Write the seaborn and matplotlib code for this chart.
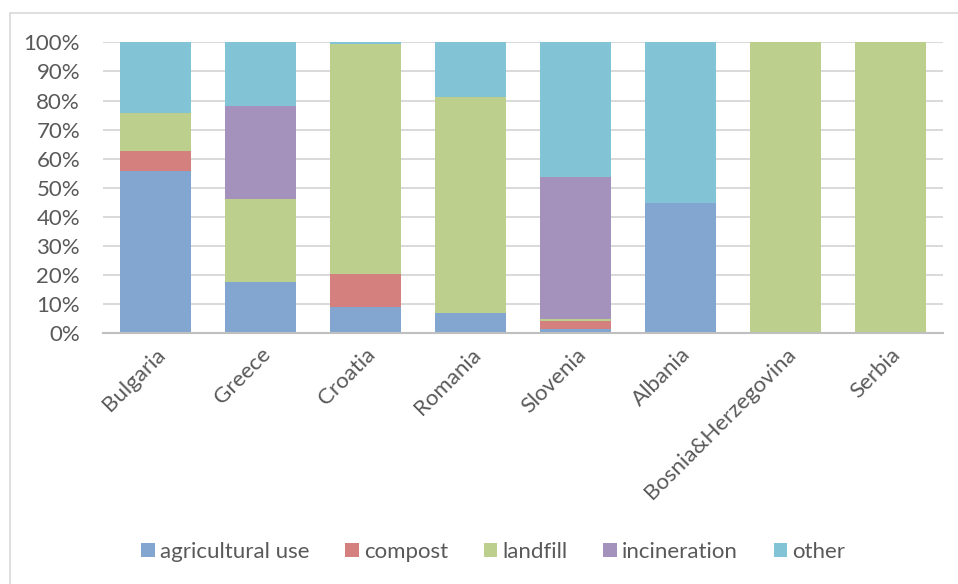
import numpy as np
import pandas as pd
import matplotlib
matplotlib.use("Agg")
import matplotlib.pyplot as plt
from matplotlib.patches import Rectangle, Patch
from matplotlib.ticker import PercentFormatter
import seaborn as sns

countries = ["Bulgaria", "Greece", "Croatia", "Romania", "Slovenia",
             "Albania", "Bosnia&Herzegovina", "Serbia"]
methods = ["agricultural use", "compost", "landfill", "incineration", "other"]

agricultural_use = [55.7, 17.7, 9.1, 7.0, 1.4, 44.9, 0.0, 0.0]
compost = [6.8, 0.0, 11.3, 0.0, 2.9, 0.0, 0.0, 0.0]
landfill = [13.3, 28.4, 79.0, 74.3, 0.6, 0.0, 100.0, 100.0]
incineration = [0.0, 32.1, 0.0, 0.0, 48.7, 0.0, 0.0, 0.0]
other = [24.2, 21.8, 0.6, 18.7, 46.4, 55.1, 0.0, 0.0]

series = [agricultural_use, compost, landfill, incineration, other]
colors = ["#82a6cf", "#d4807f", "#bccf8d", "#a492bd", "#82c4d5"]

sns.set_theme(style="white")
plt.rcParams["font.family"] = ["Lato", "DejaVu Sans"]
text_color = "#595959"

fig = plt.figure(figsize=(9.58, 5.84), dpi=100)
ax = fig.add_axes([103 / 958, 1 - 333.3 / 584, 840 / 958, 291 / 584])

bottom = np.zeros(len(countries))
for name, vals, col in zip(methods, series, colors):
    vals = np.asarray(vals, dtype=float)
    sns.barplot(x=countries, y=vals, bottom=bottom, color=col, width=0.667,
                saturation=1, linewidth=0, ax=ax, zorder=3)
    bottom += vals

ax.set_xlim(-0.5, len(countries) - 0.5)
ax.set_ylim(0, 100)
ax.set_yticks(np.arange(0, 101, 10))
ax.yaxis.set_major_formatter(PercentFormatter(decimals=0))
ax.grid(axis="y", color="#d9d9d9", linewidth=1.4, zorder=0)
ax.grid(axis="x", visible=False)
for s in ["top", "right", "left"]:
    ax.spines[s].set_visible(False)
ax.spines["bottom"].set_color("#bfbfbf")
ax.spines["bottom"].set_linewidth(1.5)
ax.spines["bottom"].set_zorder(4)

ax.tick_params(axis="y", length=0, pad=16.5, labelsize=16, labelcolor=text_color)
ax.tick_params(axis="x", length=0, pad=8, labelsize=16, labelcolor=text_color)
plt.setp(ax.get_xticklabels(), rotation=45, ha="right", rotation_mode="anchor")
ax.set_xlabel("")
ax.set_ylabel("")

handles = [Patch(facecolor=c, edgecolor="none") for c in colors]
fig.legend(handles, methods, loc="center", bbox_to_anchor=(0.515, 1 - 552 / 584),
           ncol=5, frameon=False, fontsize=16, labelcolor=text_color,
           handlelength=0.6, handleheight=0.6, handletextpad=0.25,
           columnspacing=1.6)

fig.add_artist(Rectangle((10 / 958, -0.1), 1.2, 1.1 - 13 / 584,
                         transform=fig.transFigure, fill=False,
                         edgecolor="#d9d9d9", linewidth=1.2))

fig.savefig("out.png", dpi=100)
